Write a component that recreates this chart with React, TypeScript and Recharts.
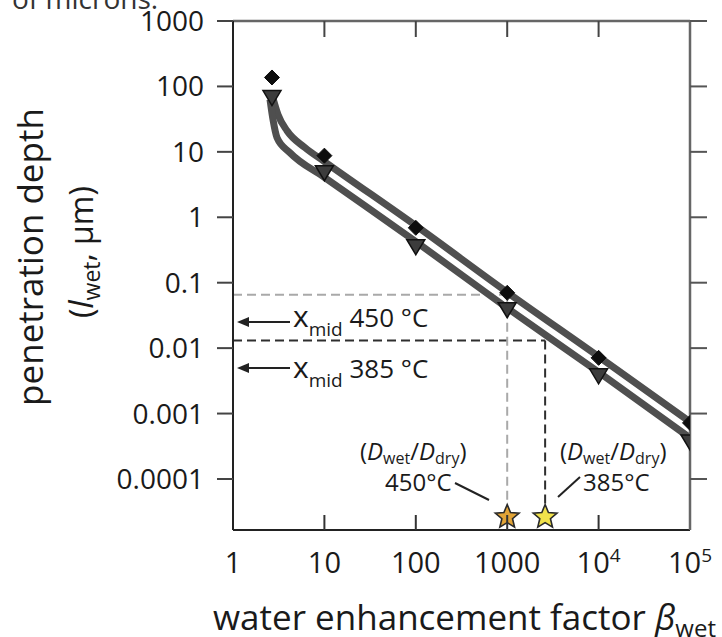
import React from "react";
import {
  ComposedChart,
  XAxis,
  YAxis,
  Line,
  Scatter,
  ReferenceLine,
  Customized,
} from "recharts";

// ---------- data ----------
const xTickValues = [1, 10, 100, 1000, 10000, 100000];
const xTickBase = ["1", "10", "100", "1000", "10", "10"];
const xTickExp = ["", "", "", "", "4", "5"];
const xInnerTicks = [10, 100, 1000, 10000];

const yTickValues = [0.0001, 0.001, 0.01, 0.1, 1, 10, 100, 1000];
const yTickLabels = ["0.0001", "0.001", "0.01", "0.1", "1", "10", "100", "1000"];
const yDomain = [1.66e-5, 1000];

const markerX = [2.67, 10, 100, 1000, 10000, 100000];
const diamondY = [137, 8.75, 0.69, 0.07, 0.0071, 0.00072];
const triangleY = [67.5, 4.8, 0.355, 0.0386, 0.00377, 0.000368];

const upperX = [2.67, 3.11, 3.9, 6.13, 10, 100, 1000, 10000, 100000];
const upperY = [75, 37, 21, 11.6, 7.1, 0.743, 0.0714, 0.00744, 0.000745];
const lowerX = [2.54, 2.74, 3.03, 4.2, 10, 100, 1000, 10000, 100000];
const lowerY = [63, 31, 16.5, 9.7, 4.08, 0.4245, 0.0411, 0.00428, 0.000424];

const ratioX = [1000, 2600]; // Dwet/Ddry at 450 °C, 385 °C
const xmidY = [0.0654, 0.01306]; // penetration depth for x_mid 450 °C, 385 °C
const starY = 2.62e-5;
const dashEndY = 4.0e-5;
const starColors = ["#E2A437", "#F1E24B"];
const guideColors = ["#a9a9a9", "#2e2e2e"];

// ---------- tables ----------
const pts = (xs: number[], ys: number[]) => xs.map((x, i) => ({ x, y: ys[i] }));
const diamondData = pts(markerX, diamondY);
const triangleData = pts(markerX, triangleY);
const upperData = pts(upperX, upperY);
const lowerData = pts(lowerX, lowerY);
const starData = ratioX.map((x, i) => ({ x, y: starY, c: starColors[i] }));

const FONT = "'Open Sans', 'Noto Sans', sans-serif";
const TXT = "#1a1a1a";

// ---------- ticks ----------
const BottomTick = (p: any) => {
  const { x, y, payload } = p;
  const i = xTickValues.indexOf(payload.value);
  const inner = xInnerTicks.includes(payload.value);
  return (
    <g>
      {inner && <line x1={x} x2={x} y1={y} y2={y - 15} stroke="#333" strokeWidth={2} />}
      <text x={x} y={y + 43} textAnchor="middle" fontSize={29} fill={TXT} fontFamily={FONT}>
        {xTickBase[i]}
        {xTickExp[i] && (
          <tspan fontSize={19} dy={-11}>
            {xTickExp[i]}
          </tspan>
        )}
      </text>
    </g>
  );
};

const TopTick = (p: any) => {
  const { x, y } = p;
  return <line x1={x} x2={x} y1={y} y2={y + 16} stroke="#444" strokeWidth={2} />;
};

const LeftTick = (p: any) => {
  const { x, y, payload } = p;
  const i = yTickValues.indexOf(payload.value);
  return (
    <g>
      <line x1={x - 16} x2={x} y1={y} y2={y} stroke="#444" strokeWidth={2} />
      <text x={x - 29} y={y + 10} textAnchor="end" fontSize={28} fill={TXT} fontFamily={FONT}>
        {yTickLabels[i]}
      </text>
    </g>
  );
};

const RightTick = (p: any) => {
  const { x, y } = p;
  return <line x1={x} x2={x + 17} y1={y} y2={y} stroke="#555" strokeWidth={2} />;
};

// ---------- marker shapes ----------
const Diamond = (p: any) => {
  const { cx, cy } = p;
  const r = 7.5;
  return (
    <polygon
      points={`${cx},${cy - r} ${cx + r},${cy} ${cx},${cy + r} ${cx - r},${cy}`}
      fill="#0d0d0d"
      stroke="#0d0d0d"
      strokeWidth={1}
    />
  );
};

const TriangleDown = (p: any) => {
  const { cx, cy } = p;
  return (
    <polygon
      points={`${cx - 9},${cy - 7} ${cx + 9},${cy - 7} ${cx},${cy + 8}`}
      fill="#3c3c3c"
      stroke="#111"
      strokeWidth={1.5}
    />
  );
};

const Star = (p: any) => {
  const { cx, cy, payload } = p;
  const R = 12.5;
  const r = 5.6;
  const ps: string[] = [];
  for (let k = 0; k < 10; k++) {
    const a = -Math.PI / 2 + (k * Math.PI) / 5;
    const rr = k % 2 === 0 ? R : r;
    ps.push(`${cx + rr * Math.cos(a)},${cy + rr * Math.sin(a)}`);
  }
  return <polygon points={ps.join(" ")} fill={payload.c} stroke="#2a2a2a" strokeWidth={1.6} />;
};

// ---------- annotations ----------
const Arrow = ({ y }: { y: number }) => (
  <g>
    <line x1={244} x2={290} y1={y} y2={y} stroke="#222" strokeWidth={2} />
    <polygon points={`${237},${y} ${249},${y - 5} ${249},${y + 5}`} fill="#222" />
  </g>
);

const XmidLabel = ({ y, t }: { y: number; t: string }) => (
  <text x={293} y={y} fill={TXT} fontFamily={FONT} fontSize={26}>
    <tspan fontSize={30}>x</tspan>
    <tspan fontSize={19} dy={9}>
      mid
    </tspan>
    <tspan dy={-9}>{` ${t}`}</tspan>
  </text>
);

const DLabel = ({ x, y }: { x: number; y: number }) => (
  <text x={x} y={y} fill={TXT} fontFamily={FONT} fontSize={24}>
    (<tspan fontStyle="italic">D</tspan>
    <tspan fontSize={16} dy={4}>
      wet
    </tspan>
    <tspan dy={-4}>/</tspan>
    <tspan fontStyle="italic">D</tspan>
    <tspan fontSize={16} dy={4}>
      dry
    </tspan>
    <tspan dy={-4}>)</tspan>
  </text>
);

const Annotations = () => (
  <g>
    <text x={12} y={9} fontSize={28} fill="#333" fontFamily={FONT}>
      of microns.
    </text>
    {/* y axis title */}
    <text
      x={43}
      y={257}
      transform="rotate(-90, 43, 257)"
      textAnchor="middle"
      fontSize={35}
      fill={TXT}
      fontFamily={FONT}
    >
      penetration depth
    </text>
    <text
      x={93}
      y={252}
      transform="rotate(-90, 93, 252)"
      textAnchor="middle"
      fontSize={32}
      fill={TXT}
      fontFamily={FONT}
    >
      (<tspan fontStyle="italic">l</tspan>
      <tspan fontSize={23} dy={7}>
        wet
      </tspan>
      <tspan dy={-7}>, μm)</tspan>
    </text>
    {/* x axis title */}
    <text x={213} y={630} fontSize={35} fill={TXT} fontFamily={FONT}>
      water enhancement factor <tspan fontStyle="italic">β</tspan>
      <tspan fontSize={24} dy={7}>
        wet
      </tspan>
    </text>
    {/* x_mid labels */}
    <Arrow y={322} />
    <XmidLabel y={327} t="450 °C" />
    <Arrow y={368} />
    <XmidLabel y={378} t="385 °C" />
    {/* Dwet/Ddry labels */}
    <DLabel x={360} y={460} />
    <text x={385} y={491} fill={TXT} fontFamily={FONT} fontSize={24}>
      450°C
    </text>
    <line x1={455} y1={483} x2={489} y2={500} stroke="#222" strokeWidth={2} />
    <DLabel x={560} y={460} />
    <text x={583} y={491} fill={TXT} fontFamily={FONT} fontSize={24}>
      385°C
    </text>
    <line x1={580} y1={477} x2={558} y2={497} stroke="#222" strokeWidth={2} />
  </g>
);

export default function App() {
  return (
    <div style={{ position: "absolute", left: 0, top: 0, background: "#fff" }}>
      <ComposedChart width={722} height={637} margin={{ top: 20, right: 0, bottom: 0, left: 0 }}>
        <XAxis
          xAxisId="b"
          dataKey="x"
          type="number"
          scale="log"
          domain={[1, 100000]}
          allowDataOverflow
          ticks={xTickValues}
          interval={0}
          height={107}
          tickSize={0}
          tickMargin={0}
          tickLine={false}
          tick={<BottomTick />}
          axisLine={{ stroke: "#222", strokeWidth: 2 }}
        />
        <XAxis
          xAxisId="t"
          orientation="top"
          dataKey="x"
          type="number"
          scale="log"
          domain={[1, 100000]}
          allowDataOverflow
          ticks={xInnerTicks}
          interval={0}
          height={1}
          tickSize={0}
          tickMargin={0}
          tickLine={false}
          tick={<TopTick />}
          axisLine={{ stroke: "#666", strokeWidth: 2.5 }}
        />
        <YAxis
          yAxisId="l"
          dataKey="y"
          type="number"
          scale="log"
          domain={yDomain}
          allowDataOverflow
          ticks={yTickValues}
          interval={0}
          width={233}
          tickSize={0}
          tickMargin={0}
          tickLine={false}
          tick={<LeftTick />}
          axisLine={{ stroke: "#222", strokeWidth: 2 }}
        />
        <YAxis
          yAxisId="r"
          orientation="right"
          dataKey="y"
          type="number"
          scale="log"
          domain={yDomain}
          allowDataOverflow
          ticks={yTickValues}
          interval={0}
          width={32}
          tickSize={0}
          tickMargin={0}
          tickLine={false}
          tick={<RightTick />}
          axisLine={{ stroke: "#666", strokeWidth: 2.5 }}
        />
        {ratioX.map((rx, i) => (
          <ReferenceLine
            key={`h${i}`}
            xAxisId="b"
            yAxisId="l"
            segment={[
              { x: 1, y: xmidY[i] },
              { x: rx, y: xmidY[i] },
            ]}
            stroke={guideColors[i]}
            strokeWidth={2}
            strokeDasharray="9 5"
            ifOverflow="visible"
          />
        ))}
        {ratioX.map((rx, i) => (
          <ReferenceLine
            key={`v${i}`}
            xAxisId="b"
            yAxisId="l"
            segment={[
              { x: rx, y: xmidY[i] },
              { x: rx, y: dashEndY },
            ]}
            stroke={guideColors[i]}
            strokeWidth={2}
            strokeDasharray="9 5"
            ifOverflow="visible"
          />
        ))}
        <Line
          xAxisId="b"
          yAxisId="l"
          data={upperData}
          dataKey="y"
          type="monotone"
          stroke="#4f4f4f"
          strokeWidth={7}
          dot={false}
          activeDot={false}
          isAnimationActive={false}
        />
        <Line
          xAxisId="b"
          yAxisId="l"
          data={lowerData}
          dataKey="y"
          type="monotone"
          stroke="#4f4f4f"
          strokeWidth={7}
          dot={false}
          activeDot={false}
          isAnimationActive={false}
        />
        <Scatter
          xAxisId="b"
          yAxisId="l"
          data={diamondData}
          dataKey="y"
          shape={Diamond}
          isAnimationActive={false}
        />
        <Scatter
          xAxisId="b"
          yAxisId="l"
          data={triangleData}
          dataKey="y"
          shape={TriangleDown}
          isAnimationActive={false}
        />
        <Scatter
          xAxisId="b"
          yAxisId="l"
          data={starData}
          dataKey="y"
          shape={Star}
          isAnimationActive={false}
        />
        <Customized component={Annotations} />
      </ComposedChart>
    </div>
  );
}
